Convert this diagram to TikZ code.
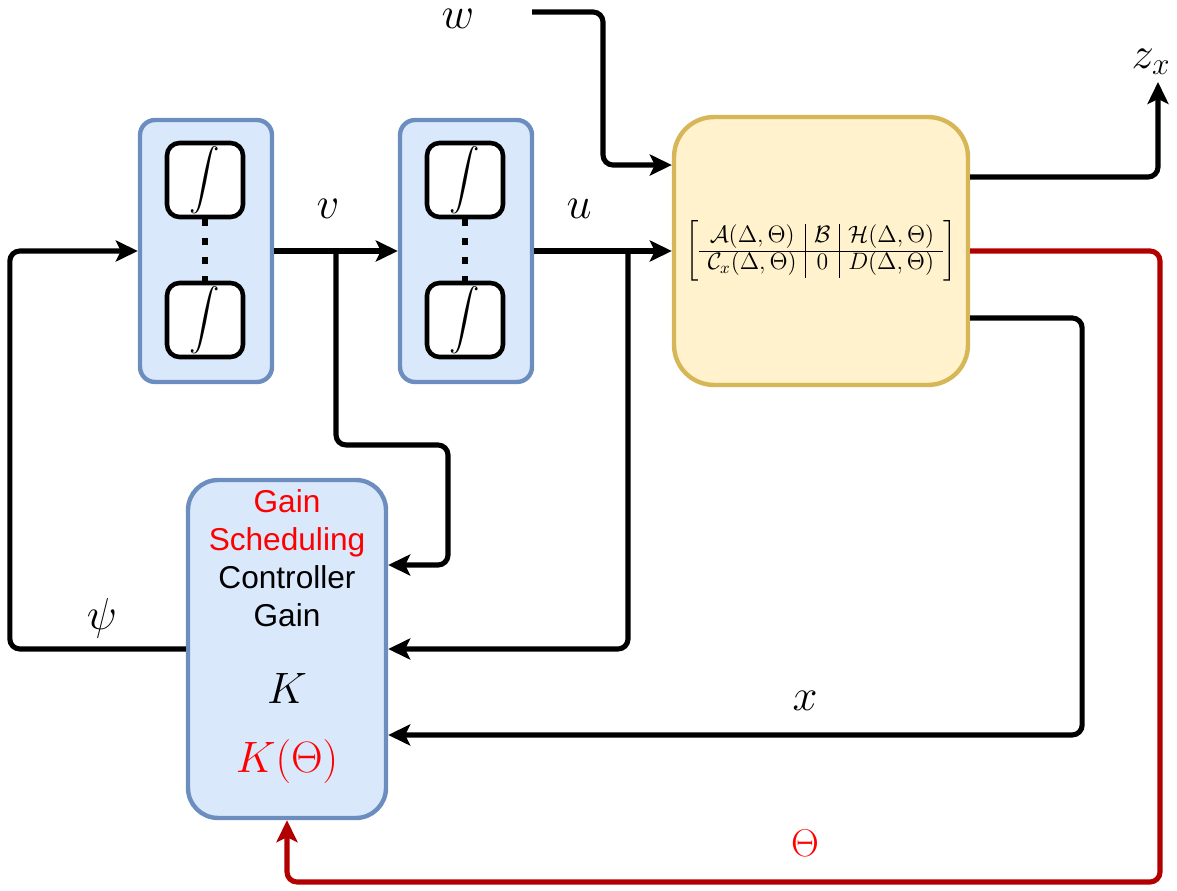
\documentclass[tikz,border=0pt]{standalone}
\usepackage{fix-cm}
\usepackage{amsmath}
\usepackage{fontspec}
\setsansfont{Liberation Sans}
\usepackage{tikz}
\usetikzlibrary{arrows.meta, calc, positioning}

\definecolor{blockfill}{HTML}{DAE8FC}
\definecolor{blockline}{HTML}{6C8EBF}
\definecolor{plantfill}{HTML}{FFF2CC}
\definecolor{plantline}{HTML}{D6B656}
\definecolor{thetaline}{HTML}{B20000}
\definecolor{textred}{HTML}{FF0000}

\tikzset{
  intblock/.style={draw=blockline, fill=blockfill, line width=2.5pt, rounded corners=0.3cm,
    minimum width=2.64cm, minimum height=5.24cm},
  intbox/.style={draw, fill=white, line width=2.6pt, rounded corners=0.25cm, inner sep=0pt,
    minimum width=1.52cm, minimum height=1.48cm, font=\fontsize{16.5}{18}\selectfont},
  dotline/.style={line width=3.6pt, dash pattern=on 4pt off 6.8pt},
  arr/.style={line width=2.9pt, rounded corners=0.2cm,
    -{Stealth[length=0.44cm, width=0.42cm, inset=0.1cm]}},
  sig/.style={inner sep=0pt, font=\fontsize{25.5}{28}\selectfont}
}

\begin{document}
\begin{tikzpicture}[x=0.02cm, y=-0.02cm]
\useasboundingbox (0,0) rectangle (1177,891);

% integrator chains
\node[intblock] (int1) at (206,251) {};
\node[intbox] (int1a) at (205,180) {$\displaystyle\int$};
\node[intbox] (int1b) at (205,320) {$\displaystyle\int$};
\draw[dotline] (int1a.south) -- (int1b.north);

\node[intblock] (int2) at (466,251) {};
\node[intbox] (int2a) at (465,180) {$\displaystyle\int$};
\node[intbox] (int2b) at (465,320) {$\displaystyle\int$};
\draw[dotline] (int2a.south) -- (int2b.north);

% plant
\node[draw=plantline, fill=plantfill, line width=2.5pt, rounded corners=0.8cm,
  minimum width=5.88cm, minimum height=5.36cm, font=\fontsize{13.5}{15}\selectfont] (plant) at (821,251)
  {$\left[\begin{array}{c|c|c}
    \mathcal{A}(\Delta,\Theta) & \mathcal{B} & \mathcal{H}(\Delta,\Theta)\\ \hline
    \mathcal{C}_x(\Delta,\Theta) & 0 & D(\Delta,\Theta)
  \end{array}\right]$};

% controller
\node[draw=blockline, fill=blockfill, line width=2.5pt, rounded corners=0.6cm,
  minimum width=3.96cm, minimum height=6.76cm] (ctrl) at (287,649) {};
\node[align=center, font=\sffamily\fontsize{18}{21.6}\selectfont] (ctrltxt) at (287,558)
  {\textcolor{textred}{Gain}\\\textcolor{textred}{Scheduling}\\Controller\\Gain};
\node[sig, font=\fontsize{25}{27}\selectfont] (K) at (287,688) {$K$};
\node[sig, font=\fontsize{25}{27}\selectfont, text=textred] (Ktheta) at (287,762) {$K(\Theta)$};

% signal points
\coordinate (vsplit) at ($(int1.east)!0.5!(int2.west)$);
\coordinate (usplit) at (628,251);
\coordinate (win) at (532,12);
\coordinate (zout) at (1158,82);

% connectors
\draw[arr] (ctrl.west) -- ++(-176,0) |- (int1.west);
\draw[arr] (int1.east) -- (int2.west);
\draw[arr] (vsplit) |- (448,445) |- ([yshift=1.68cm]ctrl.east);
\draw[arr] (int2.east) -- (plant.west);
\draw[arr] (usplit) |- (ctrl.east);
\draw[arr] (win) -- ++(71,0) |- ([yshift=1.72cm]plant.west);
\draw[arr] ([yshift=1.48cm]plant.east) -| (zout);
\draw[arr] ([yshift=-1.34cm]plant.east) -- ++(112,0) |- ([yshift=-1.72cm]ctrl.east);
\draw[arr, thetaline] (plant.east) -| (1160,882) -| (ctrl.south);

% labels
\node[sig] (wlab) at (458,19) {$w$};
\node[sig] (vlab) at (328,209) {$v$};
\node[sig] (ulab) at (579,209) {$u$};
\node[sig] (psilab) at (102,618) {$\psi$};
\node[sig] (xlab) at (805,701) {$x$};
\node[sig, text=textred, font=\fontsize{22}{24}\selectfont] (thlab) at (805,843) {$\Theta$};
\node[sig] (zlab) at (1151,62) {$z_x$};
\end{tikzpicture}
\end{document}
